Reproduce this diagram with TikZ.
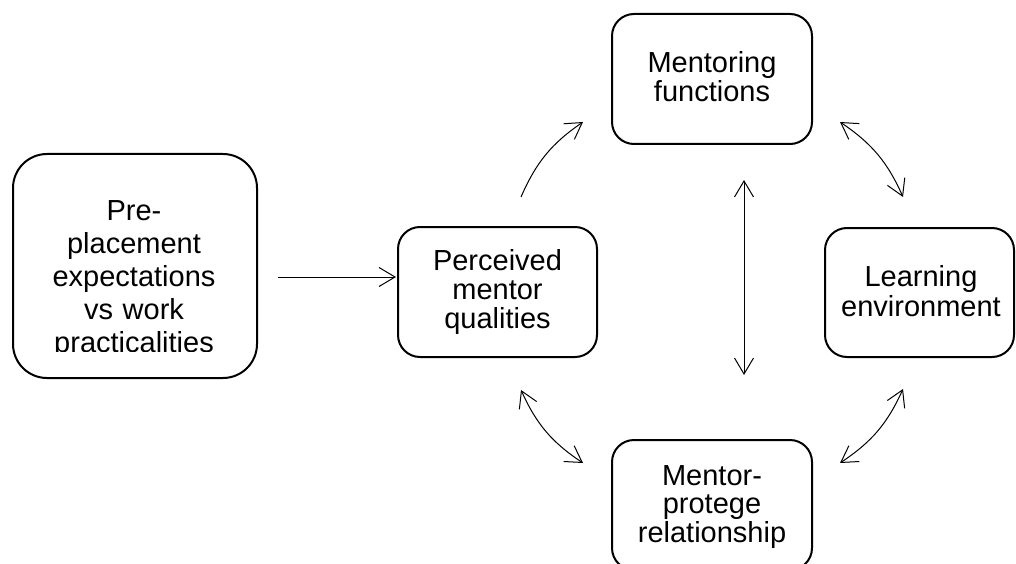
\documentclass[tikz,border=0pt]{standalone}
\usepackage{fontspec}
\setmainfont{Liberation Sans}
\usetikzlibrary{arrows.meta}
\tikzset{
  box/.style={draw, line width=2pt, rounded corners=22pt, inner sep=0pt},
  txt/.style={anchor=base, align=center, inner sep=0pt, text width=#1},
  txt/.default=200pt,
  conn/.style={line width=1pt},
  tip/.tip={Straight Barb[length=16pt,width=19pt,line width=1pt]}
}
\begin{document}
\begin{tikzpicture}[x=1pt,y=-1pt]
\useasboundingbox (0,0) rectangle (1016,564);
% boxes
\node[box, rounded corners=34pt, minimum width=244pt, minimum height=224pt] (preB) at (135,266) {};
\node[box, minimum width=199pt, minimum height=130pt] (percB) at (497.5,292) {};
\node[box, minimum width=200pt, minimum height=130pt] (mentB) at (712,79) {};
\node[box, minimum width=189pt, minimum height=129pt] (learnB) at (919.5,292.5) {};
\node[box, minimum width=200pt, minimum height=130pt] (mpB) at (712,505) {};
% texts
\begin{scope}
\clip (0,0) rectangle (1016,351);
\node[txt=240pt, font=\fontsize{29}{33}\selectfont] (preT) at (134,220) {Pre-\\placement\\expectations\\vs work\\practicalities};
\end{scope}
\node[txt, font=\fontsize{29}{29}\selectfont] (percT) at (497.5,270) {Perceived\\mentor\\qualities};
\node[txt, font=\fontsize{29}{29}\selectfont] (mentT) at (712,73) {Mentoring\\functions};
\node[txt=185pt, font=\fontsize{29}{30}\selectfont] (learnT) at (921,286) {Learning\\environment};
\node[txt, font=\fontsize{29}{28.5}\selectfont] (mpT) at (712,485) {Mentor-\\protege\\relationship};
% connector ends
\coordinate (h1) at (278,277);
\coordinate (h2) at (396,277);
\coordinate (c1a) at (521,197);
\coordinate (c1b) at (583,122);
\coordinate (c2a) at (840,122);
\coordinate (c2b) at (903,197);
\coordinate (c3a) at (521,390);
\coordinate (c3b) at (583,463);
\coordinate (c4a) at (903,389);
\coordinate (c4b) at (840,463);
\coordinate (v1) at (744,180);
\coordinate (v2) at (744,375);
% connectors
\draw[conn, -{tip}] (h1) -- (h2);
\draw[conn, -{tip}] (c1a) to[bend left=16] (c1b);
\draw[conn, {tip}-{tip}] (c2a) to[bend left=16] (c2b);
\draw[conn, {tip}-{tip}] (c3a) to[bend right=16] (c3b);
\draw[conn, {tip}-{tip}] (c4a) to[bend left=16] (c4b);
\draw[conn, {tip}-{tip}] (v1) -- (v2);
\end{tikzpicture}
\end{document}
